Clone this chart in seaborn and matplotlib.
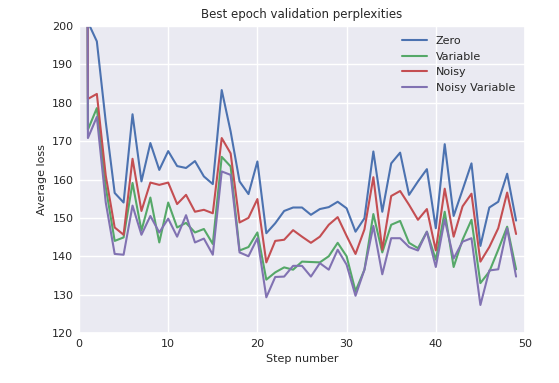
import numpy as np
import pandas as pd
import matplotlib
matplotlib.use("Agg")
import matplotlib.pyplot as plt
import seaborn as sns

# step numbers (step 0 is the untrained model, far above the plotted range)
steps = list(range(0, 50))

zero = [1000.0, 201.0, 196.0, 175.0, 156.5, 154.0, 177.0, 159.5, 169.5, 162.5,
        167.4, 163.5, 163.0, 164.8, 160.8, 158.8, 183.3, 172.5, 159.5, 156.2,
        164.7, 146.0, 148.6, 151.8, 152.7, 152.7, 150.8, 152.3, 152.8, 154.2,
        152.5, 146.4, 149.9, 167.3, 151.6, 164.2, 167.0, 156.0, 159.5, 162.7,
        147.3, 169.2, 150.5, 157.3, 164.2, 142.7, 152.7, 154.2, 161.5, 149.3]

variable = [1000.0, 173.0, 178.6, 158.0, 144.0, 144.9, 159.1, 146.7, 155.3, 143.6,
            154.0, 147.5, 148.7, 146.2, 147.1, 143.2, 165.9, 163.4, 141.5, 142.4,
            146.2, 133.9, 135.8, 137.1, 136.5, 138.6, 138.5, 138.4, 140.0, 143.5,
            140.0, 130.9, 136.5, 151.0, 141.0, 148.2, 149.2, 143.5, 142.1, 146.4,
            139.1, 151.6, 137.2, 144.3, 149.5, 133.0, 136.0, 141.7, 147.7, 136.6]

noisy = [1000.0, 181.0, 182.3, 161.0, 147.5, 145.6, 165.4, 151.8, 159.2, 158.6,
         159.2, 153.6, 156.0, 151.6, 152.1, 151.2, 170.8, 166.8, 148.8, 150.0,
         154.9, 138.4, 144.0, 144.3, 146.8, 145.1, 143.5, 145.1, 148.2, 150.2,
         145.3, 140.6, 147.0, 160.6, 141.7, 155.7, 157.0, 153.4, 149.5, 152.3,
         141.5, 157.6, 145.1, 153.0, 156.3, 138.6, 142.4, 147.3, 156.6, 145.8]

noisy_variable = [1000.0, 170.8, 176.3, 154.0, 140.6, 140.4, 153.2, 145.6, 150.5, 146.2,
                  149.8, 145.1, 150.7, 143.6, 144.6, 140.4, 162.1, 161.2, 141.0, 140.0,
                  144.7, 129.3, 134.6, 134.7, 137.5, 137.5, 134.7, 138.2, 136.5, 141.7,
                  137.8, 129.7, 136.5, 147.9, 135.3, 144.7, 144.7, 142.4, 141.5, 146.4,
                  137.2, 149.6, 139.4, 143.8, 144.7, 127.3, 136.3, 136.6, 147.3, 134.7]

series_names = ["Zero", "Variable", "Noisy", "Noisy Variable"]
colors = ["#4C72B0", "#55A868", "#C44E52", "#8172B2"]

df = pd.concat([
    pd.DataFrame({"step": steps, "loss": vals, "model": name})
    for name, vals in zip(series_names, [zero, variable, noisy, noisy_variable])
])

sns.set_theme(style="darkgrid")
plt.rcParams["font.family"] = ["DejaVu Sans"]

fig = plt.figure(figsize=(5.59, 3.83), dpi=100)
ax = fig.add_axes([79 / 559, 1 - 333 / 383, 446 / 559, 307 / 383])

sns.lineplot(data=df, x="step", y="loss", hue="model", hue_order=series_names,
             palette=colors, estimator=None, linewidth=1.5, ax=ax)

ax.set_xlim(0, 50)
ax.set_ylim(120, 200)
ax.set_xticks(range(0, 51, 10))
ax.set_yticks(range(120, 201, 10))
ax.tick_params(labelsize=8, length=0, pad=4, colors="#262626")
ax.set_title("Best epoch validation perplexities", fontsize=8.5, color="#262626")
ax.set_xlabel("Step number", fontsize=8, color="#262626")
ax.set_ylabel("Average loss", fontsize=8, color="#262626")

leg = ax.legend(loc="upper right", frameon=False, fontsize=8, handlelength=2.2)

fig.savefig("out.png", dpi=100)
